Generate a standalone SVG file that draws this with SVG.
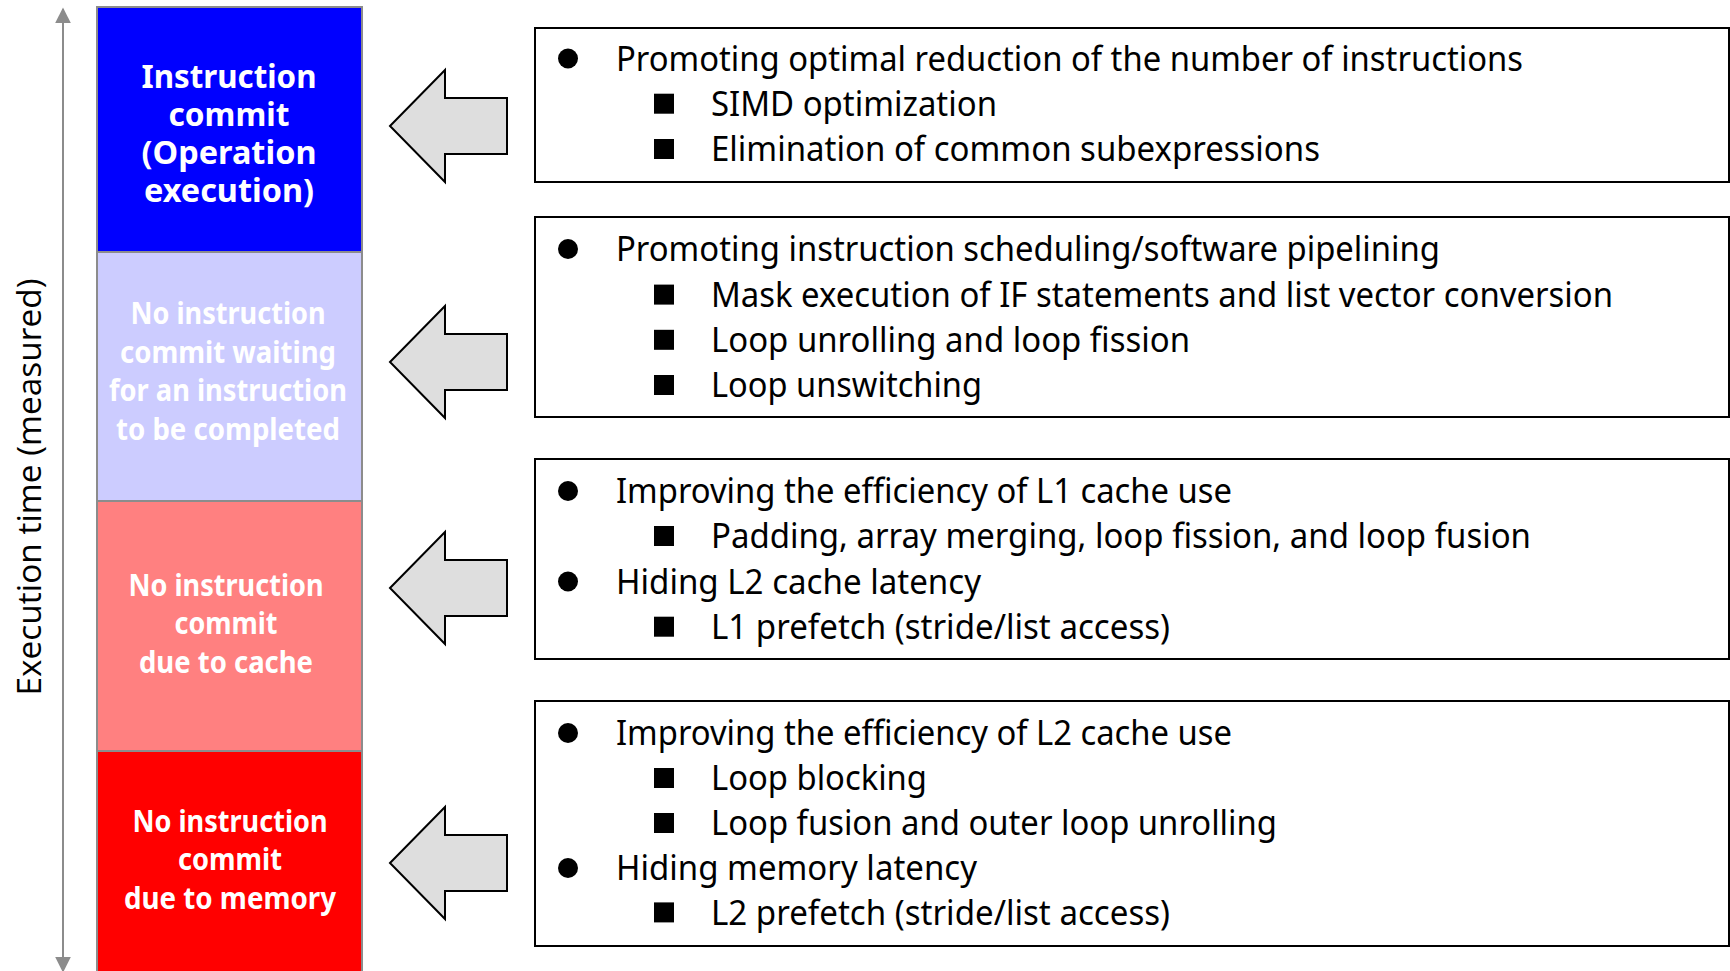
<svg xmlns="http://www.w3.org/2000/svg" width="1730" height="971" viewBox="0 0 1730 971">
<defs>
<style>
.col{stroke:#8c8c8c;stroke-width:2}
.ct{font-family:"Noto Sans","Open Sans",sans-serif;font-weight:bold;fill:#fff;text-anchor:middle;font-size:31px}
.big{font-size:32px}
.lt{font-family:"Noto Sans","Open Sans",sans-serif;font-size:35px;fill:#000}
.box{fill:#fff;stroke:#000;stroke-width:2}
.arr{fill:#dedede;stroke:#000;stroke-width:2;stroke-linejoin:miter}
.ax{font-family:"Open Sans","Noto Sans",sans-serif;font-size:32px;fill:#000}
</style>
<marker id="ah" viewBox="0 0 10 10" refX="9" refY="5" markerWidth="16" markerHeight="16" markerUnits="userSpaceOnUse" orient="auto">
<path d="M0,0 L10,5 L0,10 z" fill="#8c8c8c"/>
</marker>
<path id="arrow" d="M0,0 L55,-56 L55,-28 L117,-28 L117,28 L55,28 L55,56 z"/>
<rect id="sq" x="-10" y="-10" width="20" height="20"/>
</defs>
<rect width="1730" height="971" fill="#fff"/>

<g id="axis">
<line x1="63" y1="490" x2="63" y2="9" stroke="#8c8c8c" stroke-width="2" marker-end="url(#ah)"/>
<line x1="63" y1="490" x2="63" y2="971" stroke="#8c8c8c" stroke-width="2" marker-end="url(#ah)"/>
<text class="ax" transform="translate(41,487) rotate(-90)" text-anchor="middle" textLength="417" lengthAdjust="spacingAndGlyphs">Execution time (measured)</text>
</g>

<g id="stage-commit">
<rect class="col" x="97" y="7" width="265" height="245" fill="#0000ff"/>
<text class="ct big" x="229" y="88" textLength="175" lengthAdjust="spacingAndGlyphs">Instruction</text>
<text class="ct big" x="229" y="126" textLength="121" lengthAdjust="spacingAndGlyphs">commit</text>
<text class="ct big" x="229" y="164" textLength="175" lengthAdjust="spacingAndGlyphs">(Operation</text>
<text class="ct big" x="229" y="202" textLength="170" lengthAdjust="spacingAndGlyphs">execution)</text>
</g>

<g id="stage-wait">
<rect class="col" x="97" y="252" width="265" height="249" fill="#ccccff"/>
<text class="ct" x="228" y="324" textLength="195" lengthAdjust="spacingAndGlyphs">No instruction</text>
<text class="ct" x="228" y="363" textLength="216" lengthAdjust="spacingAndGlyphs">commit waiting</text>
<text class="ct" x="228" y="401" textLength="238" lengthAdjust="spacingAndGlyphs">for an instruction</text>
<text class="ct" x="228" y="440" textLength="224" lengthAdjust="spacingAndGlyphs">to be completed</text>
</g>

<g id="stage-cache">
<rect class="col" x="97" y="501" width="265" height="250" fill="#ff8080"/>
<text class="ct" x="226" y="596" textLength="195" lengthAdjust="spacingAndGlyphs">No instruction</text>
<text class="ct" x="226" y="634" textLength="103" lengthAdjust="spacingAndGlyphs">commit</text>
<text class="ct" x="226" y="673" textLength="174" lengthAdjust="spacingAndGlyphs">due to cache</text>
</g>

<g id="stage-memory">
<rect class="col" x="97" y="751" width="265" height="222" fill="#ff0000"/>
<text class="ct" x="230" y="832" textLength="195" lengthAdjust="spacingAndGlyphs">No instruction</text>
<text class="ct" x="230" y="870" textLength="104" lengthAdjust="spacingAndGlyphs">commit</text>
<text class="ct" x="230" y="909" textLength="212" lengthAdjust="spacingAndGlyphs">due to memory</text>
</g>

<g id="connectors">
<use href="#arrow" class="arr" x="390" y="126"/>
<use href="#arrow" class="arr" x="390" y="362"/>
<use href="#arrow" class="arr" x="390" y="588"/>
<use href="#arrow" class="arr" x="390" y="863"/>
</g>

<g id="box1">
<rect class="box" x="535" y="28" width="1194" height="154"/>
<circle cx="568" cy="58.5" r="10"/>
<text class="lt" x="616" y="71" textLength="907" lengthAdjust="spacingAndGlyphs">Promoting optimal reduction of the number of instructions</text>
<use href="#sq" x="664" y="103.7"/>
<text class="lt" x="711" y="116" textLength="286" lengthAdjust="spacingAndGlyphs">SIMD optimization</text>
<use href="#sq" x="664" y="149"/>
<text class="lt" x="711" y="161" textLength="609" lengthAdjust="spacingAndGlyphs">Elimination of common subexpressions</text>
</g>

<g id="box2">
<rect class="box" x="535" y="217" width="1194" height="200"/>
<circle cx="568" cy="249" r="10"/>
<text class="lt" x="616" y="261" textLength="824" lengthAdjust="spacingAndGlyphs">Promoting instruction scheduling/software pipelining</text>
<use href="#sq" x="664" y="294.6"/>
<text class="lt" x="711" y="307" textLength="902" lengthAdjust="spacingAndGlyphs">Mask execution of IF statements and list vector conversion</text>
<use href="#sq" x="664" y="339.8"/>
<text class="lt" x="711" y="352" textLength="479" lengthAdjust="spacingAndGlyphs">Loop unrolling and loop fission</text>
<use href="#sq" x="664" y="385"/>
<text class="lt" x="711" y="397" textLength="271" lengthAdjust="spacingAndGlyphs">Loop unswitching</text>
</g>

<g id="box3">
<rect class="box" x="535" y="459" width="1194" height="200"/>
<circle cx="568" cy="491" r="10"/>
<text class="lt" x="616" y="503" textLength="616" lengthAdjust="spacingAndGlyphs">Improving the efficiency of L1 cache use</text>
<use href="#sq" x="664" y="536"/>
<text class="lt" x="711" y="548" textLength="820" lengthAdjust="spacingAndGlyphs">Padding, array merging, loop fission, and loop fusion</text>
<circle cx="568" cy="581.5" r="10"/>
<text class="lt" x="616" y="594" textLength="365" lengthAdjust="spacingAndGlyphs">Hiding L2 cache latency</text>
<use href="#sq" x="664" y="626.7"/>
<text class="lt" x="711" y="639" textLength="459" lengthAdjust="spacingAndGlyphs">L1 prefetch (stride/list access)</text>
</g>

<g id="box4">
<rect class="box" x="535" y="701" width="1194" height="245"/>
<circle cx="568" cy="733" r="10"/>
<text class="lt" x="616" y="745" textLength="616" lengthAdjust="spacingAndGlyphs">Improving the efficiency of L2 cache use</text>
<use href="#sq" x="664" y="778"/>
<text class="lt" x="711" y="790" textLength="216" lengthAdjust="spacingAndGlyphs">Loop blocking</text>
<use href="#sq" x="664" y="823"/>
<text class="lt" x="711" y="835" textLength="566" lengthAdjust="spacingAndGlyphs">Loop fusion and outer loop unrolling</text>
<circle cx="568" cy="868" r="10"/>
<text class="lt" x="616" y="880" textLength="361" lengthAdjust="spacingAndGlyphs">Hiding memory latency</text>
<use href="#sq" x="664" y="912.4"/>
<text class="lt" x="711" y="925" textLength="459" lengthAdjust="spacingAndGlyphs">L2 prefetch (stride/list access)</text>
</g>
</svg>
